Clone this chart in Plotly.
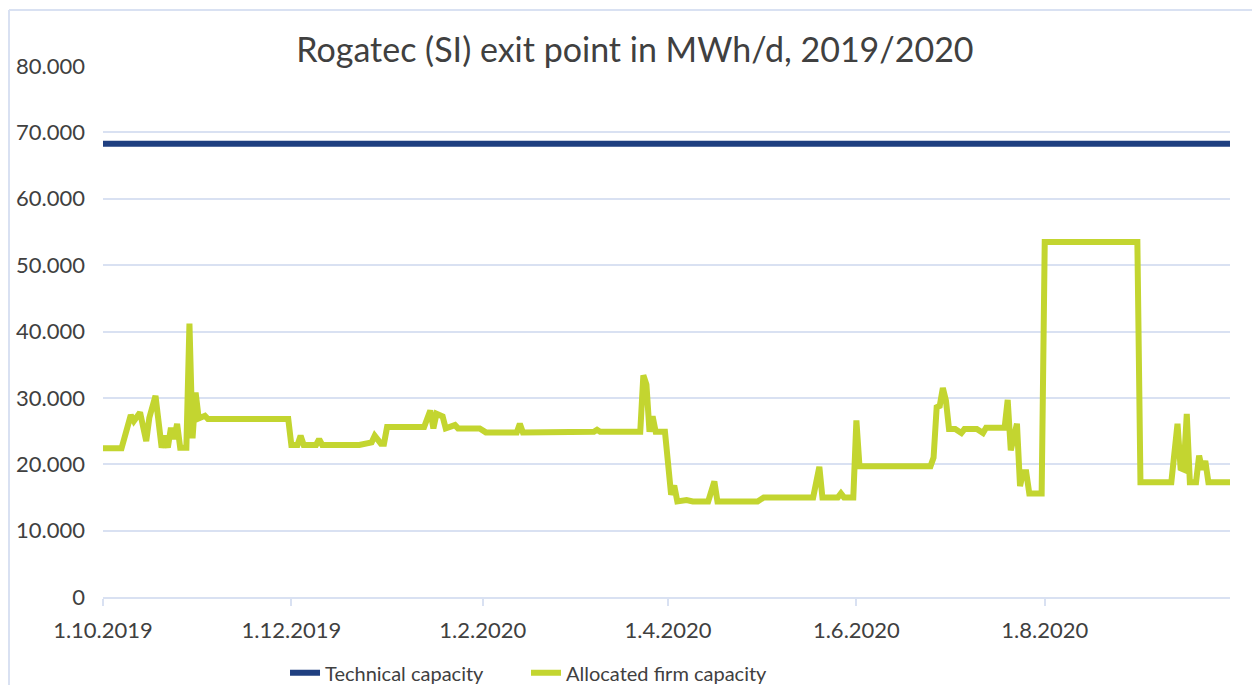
import plotly.graph_objects as go

# daily points (only the breakpoints of the line)
dates = [
    "2019-10-01", "2019-10-07", "2019-10-10", "2019-10-11", "2019-10-13", "2019-10-15",
    "2019-10-16", "2019-10-18", "2019-10-20", "2019-10-21", "2019-10-22", "2019-10-23",
    "2019-10-24", "2019-10-25", "2019-10-26", "2019-10-28", "2019-10-29", "2019-10-30",
    "2019-10-31", "2019-11-01", "2019-11-03", "2019-11-04", "2019-11-30", "2019-12-01",
    "2019-12-03", "2019-12-04", "2019-12-05", "2019-12-09", "2019-12-10", "2019-12-11",
    "2019-12-23", "2019-12-27", "2019-12-28", "2019-12-30", "2019-12-31", "2020-01-01",
    "2020-01-13", "2020-01-15", "2020-01-16", "2020-01-17", "2020-01-19", "2020-01-20",
    "2020-01-23", "2020-01-24", "2020-01-31", "2020-02-02", "2020-02-12", "2020-02-13",
    "2020-02-14", "2020-02-29", "2020-03-03", "2020-03-08", "2020-03-09", "2020-03-10",
    "2020-03-23", "2020-03-24", "2020-03-25", "2020-03-26", "2020-03-27", "2020-03-28",
    "2020-03-31", "2020-04-02", "2020-04-03", "2020-04-04", "2020-04-07", "2020-04-09",
    "2020-04-14", "2020-04-16", "2020-04-17", "2020-04-30", "2020-05-02", "2020-05-18",
    "2020-05-20", "2020-05-21", "2020-05-26", "2020-05-27", "2020-05-28", "2020-05-31",
    "2020-06-01", "2020-06-02", "2020-06-25", "2020-06-26", "2020-06-27", "2020-06-28",
    "2020-06-29", "2020-06-30", "2020-07-01", "2020-07-03", "2020-07-05", "2020-07-06",
    "2020-07-10", "2020-07-12", "2020-07-13", "2020-07-19", "2020-07-20", "2020-07-21",
    "2020-07-23", "2020-07-24", "2020-07-25", "2020-07-26", "2020-07-27", "2020-07-31",
    "2020-08-01", "2020-08-31", "2020-09-01", "2020-09-11", "2020-09-13", "2020-09-14",
    "2020-09-15", "2020-09-16", "2020-09-17", "2020-09-19", "2020-09-20", "2020-09-21",
    "2020-09-22", "2020-09-23", "2020-09-30",
]

allocated = [
    22400, 22400, 27400, 26500, 27800, 23500,
    27000, 30300, 22500, 24300, 22500, 25500,
    23800, 26100, 22500, 22500, 41200, 23900,
    30800, 26900, 27300, 26800, 26800, 22900,
    22900, 24300, 22900, 22900, 23800, 22900,
    22900, 23300, 24300, 23100, 23100, 25600,
    25600, 28100, 25400, 27600, 27200, 25400,
    25900, 25400, 25400, 24800, 24800, 26100,
    24800, 24800, 24900, 24900, 25200, 24900,
    24900, 33400, 32000, 24900, 27200, 24900,
    24900, 15400, 16800, 14400, 14600, 14400,
    14400, 17400, 14400, 14400, 15000, 15000,
    19600, 15000, 15000, 15600, 15000, 15000,
    26600, 19700, 19700, 21000, 28600, 28800,
    31500, 29600, 25300, 25300, 24700, 25300,
    25300, 24700, 25500, 25500, 29700, 22100,
    26100, 16700, 18800, 18800, 15600, 15600,
    53500, 53500, 17300, 17300, 26100, 19400,
    19200, 27600, 17300, 17300, 21300, 19200,
    20500, 17300, 17300,
]

technical = [68300] * len(dates)

y_ticks = [0, 10000, 20000, 30000, 40000, 50000, 60000, 70000, 80000]

grid_col = "#D9E1F2"
text_col = "#404040"

fig = go.Figure()
fig.add_trace(go.Scatter(x=dates, y=technical, mode="lines", name="Technical capacity",
                         line=dict(color="#1F3F80", width=6)))
fig.add_trace(go.Scatter(x=dates, y=allocated, mode="lines", name="Allocated firm capacity",
                         line=dict(color="#C3D530", width=6)))

fig.update_layout(
    width=1260, height=685,
    margin=dict(l=95, r=38, t=58, b=96, autoexpand=False),
    paper_bgcolor="white", plot_bgcolor="white",
    font=dict(family="Lato", color=text_col, size=22),
    separators=",.",
    title=dict(text="Rogatec (SI) exit point in MWh/d, 2019/2020",
               x=0.4976, xref="container", xanchor="center",
               y=1 - 42 / 685, yref="container", yanchor="middle",
               font=dict(size=34, color=text_col)),
    showlegend=True,
    legend=dict(orientation="h", x=0.1615, xanchor="left", y=-0.106, yanchor="top",
                entrywidth=196, entrywidthmode="pixels",
                font=dict(size=20, color=text_col), bgcolor="rgba(0,0,0,0)"),
    shapes=[
        dict(type="line", xref="paper", yref="paper", x0=-0.0834, x1=-0.0834, y0=-0.2, y1=1.1055,
             line=dict(color=grid_col, width=2)),
        dict(type="line", xref="paper", yref="paper", x0=-0.0834, x1=1.05, y0=1.1055, y1=1.1055,
             line=dict(color=grid_col, width=2)),
    ],
)

fig.update_xaxes(
    type="date", range=["2019-10-01", "2020-09-30"],
    tick0="2019-10-01", dtick="M2", tickformat="%-d.%-m.%Y",
    showgrid=False, zeroline=False,
    showline=True, linecolor=grid_col, linewidth=2,
    ticks="outside", ticklen=7, tickcolor=grid_col, tickwidth=2,
    ticklabelstandoff=6,
    tickfont=dict(size=22, color=text_col),
)
fig.update_yaxes(
    range=[0, 80000], tickvals=y_ticks, tickformat=",d",
    showgrid=True, gridcolor=grid_col, gridwidth=2, zeroline=False,
    showline=False, ticks="", ticklabelstandoff=17,
    tickfont=dict(size=22, color=text_col),
)

fig.write_html("out.html")
